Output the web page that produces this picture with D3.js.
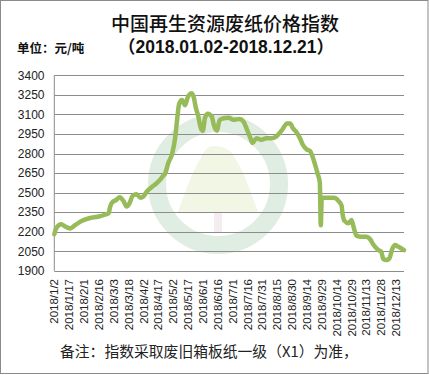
<!DOCTYPE html>
<html><head><meta charset="utf-8">
<script src="https://cdn.jsdelivr.net/npm/d3@7"></script>
<style>body{margin:0;background:#fff}svg{display:block}</style>
</head><body><svg id="c" width="429" height="375"></svg>
<script>
const dates = ["2018/1/2","2018/1/4","2018/1/9","2018/1/13","2018/1/18","2018/1/23","2018/1/30","2018/2/7","2018/2/15","2018/2/22","2018/2/26","2018/2/27","2018/3/1","2018/3/6","2018/3/9","2018/3/13","2018/3/16","2018/3/19","2018/3/22","2018/3/26","2018/3/30","2018/4/2","2018/4/5","2018/4/10","2018/4/15","2018/4/19","2018/4/22","2018/4/24","2018/4/27","2018/5/1","2018/5/4","2018/5/6","2018/5/8","2018/5/11","2018/5/14","2018/5/17","2018/5/21","2018/5/23","2018/5/25","2018/5/27","2018/5/30","2018/6/1","2018/6/3","2018/6/6","2018/6/10","2018/6/12","2018/6/15","2018/6/18","2018/6/22","2018/6/27","2018/7/2","2018/7/8","2018/7/12","2018/7/15","2018/7/19","2018/7/21","2018/7/25","2018/7/30","2018/8/4","2018/8/9","2018/8/14","2018/8/20","2018/8/25","2018/8/28","2018/8/31","2018/9/3","2018/9/7","2018/9/10","2018/9/14","2018/9/17","2018/9/20","2018/9/23","2018/9/25","2018/9/27","2018/9/28","2018/9/29","2018/10/11","2018/10/16","2018/10/19","2018/10/20","2018/10/22","2018/10/26","2018/10/29","2018/10/31","2018/11/3","2018/11/8","2018/11/13","2018/11/17","2018/11/20","2018/11/25","2018/11/28","2018/11/30","2018/12/3","2018/12/6","2018/12/9","2018/12/12","2018/12/15","2018/12/21"];
const values = [2180,2228,2258,2240,2225,2250,2284,2305,2315,2330,2343,2381,2420,2446,2465,2433,2394,2420,2475,2488,2460,2471,2504,2540,2570,2600,2630,2648,2725,2800,2920,3060,3180,3210,3170,3237,3262,3224,3147,3096,2993,2975,3071,3105,3083,3019,2975,3058,3071,3075,3058,3065,3045,2993,2917,2880,2917,2904,2917,2917,2930,2981,3030,3030,2993,2968,2917,2865,2830,2820,2770,2695,2640,2580,2250,2460,2460,2435,2400,2335,2283,2265,2290,2240,2170,2162,2162,2140,2102,2060,2047,1992,1982,1992,2065,2097,2086,2058];
const xTickLabels = ["2018/1/2","2018/1/17","2018/2/1","2018/2/16","2018/3/3","2018/3/18","2018/4/2","2018/4/17","2018/5/2","2018/5/17","2018/6/1","2018/6/16","2018/7/1","2018/7/16","2018/7/31","2018/8/15","2018/8/30","2018/9/14","2018/9/29","2018/10/14","2018/10/29","2018/11/13","2018/11/28","2018/12/13"];
const yTicks = [1900,2050,2200,2350,2500,2650,2800,2950,3100,3250,3400];
const title = "中国再生资源废纸价格指数";
const subtitle = "（2018.01.02-2018.12.21）";
const unitLabel = "单位：元/吨";
const note = "备注：指数采取废旧箱板纸一级（X1）为准，";

const parse = d3.timeParse("%Y/%m/%d");
const data = dates.map((d,i)=>({date:parse(d), value:values[i]}));
const svg = d3.select("#c");
const L=54.3, R=404, T=75.3, B=270.8;
const x = d3.scaleTime().domain([parse("2018/1/2"), parse("2018/12/21")]).range([L,R]);
const y = d3.scaleLinear().domain([1900,3400]).range([B,T]);

// outer frame
svg.append("rect").attr("x",0.5).attr("y",0.5).attr("width",427.5).attr("height",373).attr("fill","#fff").attr("stroke","#8a8a8a");

// watermark
const wm = svg.append("g").attr("opacity",0.4);
wm.append("circle").attr("cx",218).attr("cy",184).attr("r",61).attr("fill","none").attr("stroke","#b2d4b8").attr("stroke-width",18);
wm.append("path").attr("d","M214,146 C224,146 232,150 236,160 C244,172 250,190 258,212 L178,212 C186,190 192,172 200,160 C204,150 208,146 214,146 Z").attr("fill","#dfe9c0");
wm.append("rect").attr("x",214).attr("y",212).attr("width",8).attr("height",20).attr("fill","#e6d0dc");

// grid
svg.append("g").selectAll("line").data(yTicks).join("line")
  .attr("x1",L).attr("x2",R).attr("y1",d=>Math.round(y(d))+0.5).attr("y2",d=>Math.round(y(d))+0.5)
  .attr("stroke","#8c8c8c").attr("stroke-width",1);
svg.append("line").attr("x1",L).attr("x2",L).attr("y1",T).attr("y2",B).attr("stroke","#8c8c8c");

// y labels
svg.append("g").selectAll("text").data(yTicks).join("text")
  .attr("x",44.5).attr("y",d=>y(d)).attr("dy","0.36em").attr("text-anchor","end")
  .attr("font-family","Liberation Sans, Arial, sans-serif").attr("font-size",12).attr("fill","#222")
  .text(d=>d);

// x labels
svg.append("g").selectAll("text").data(xTickLabels).join("text")
  .attr("transform",d=>`translate(${x(parse(d))},279) rotate(-90)`)
  .attr("dy","0.36em").attr("text-anchor","end")
  .attr("font-family","Liberation Sans, Arial, sans-serif").attr("font-size",11.5).attr("fill","#222")
  .text(d=>d);

// line
const line = d3.line().x(d=>x(d.date)).y(d=>y(d.value)).curve(d3.curveMonotoneX);
svg.append("path").datum(data).attr("d",line).attr("fill","none")
  .attr("stroke","#97bb58").attr("stroke-width",4.5).attr("stroke-linejoin","round").attr("stroke-linecap","round");

// titles
svg.append("text").attr("x",225).attr("y",31).attr("text-anchor","middle")
  .attr("font-family","Noto Sans CJK SC, sans-serif").attr("font-size",19).attr("font-weight",500).attr("fill","#111").text(title);
svg.append("text").attr("x",226).attr("y",53).attr("text-anchor","middle")
  .attr("font-family","Liberation Sans, Noto Sans CJK SC, sans-serif").attr("font-size",17.5).attr("font-weight","bold").attr("fill","#111").text(subtitle);
svg.append("text").attr("x",17).attr("y",53)
  .attr("font-family","Noto Sans CJK SC, sans-serif").attr("font-size",12.5).attr("font-weight","bold").attr("fill","#111").text(unitLabel);
svg.append("text").attr("x",60).attr("y",357)
  .attr("font-family","Noto Sans CJK SC, sans-serif").attr("font-size",14.8).attr("fill","#222").text(note);
</script></body></html>
